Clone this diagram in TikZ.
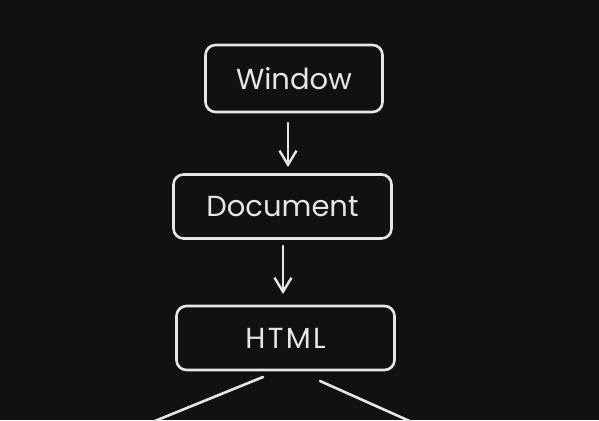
\documentclass[tikz,border=0pt]{standalone}
\usepackage{fontspec}
\setmainfont{Poppins}
\usetikzlibrary{arrows.meta}
\definecolor{bg}{HTML}{111111}
\definecolor{ink}{HTML}{E6E6E6}
\begin{document}
\begin{tikzpicture}[x=1pt,y=-1pt,
  box/.style={draw=ink,line width=2.6pt,rounded corners=10pt,text=ink,
    font=\fontsize{29}{32}\selectfont,inner sep=0pt},
  conn/.style={draw=ink,line width=2.6pt,line cap=round},
  arr/.style={conn,-{Straight Barb[length=14pt,width=17pt,line width=2.4pt]}}]
\fill[bg] (0,0) rectangle (599,420);
\useasboundingbox (0,0) rectangle (599,420);
\node[box,minimum width=177pt,minimum height=67pt] (win) at (294,78.5) {\raisebox{-3pt}{Window}};
\node[box,minimum width=218pt,minimum height=64pt] (doc) at (282.5,206.5) {\raisebox{-2pt}{Document}};
\node[box,minimum width=218pt,minimum height=64pt] (html) at (285.5,338) {\raisebox{-1pt}{\addfontfeatures{LetterSpace=8}HTML}};
\coordinate (a1s) at (288,123);
\coordinate (a1e) at (288,167);
\coordinate (a2s) at (283,246);
\coordinate (a2e) at (283,294);
\draw[arr] (a1s) -- (a1e);
\draw[arr] (a2s) -- (a2e);
\coordinate (l1s) at (263,377);
\coordinate (l1e) at (150,423);
\coordinate (l2s) at (320,381);
\coordinate (l2e) at (414,423);
\draw[conn] (l1s) -- (l1e);
\draw[conn] (l2s) -- (l2e);
\end{tikzpicture}
\end{document}
